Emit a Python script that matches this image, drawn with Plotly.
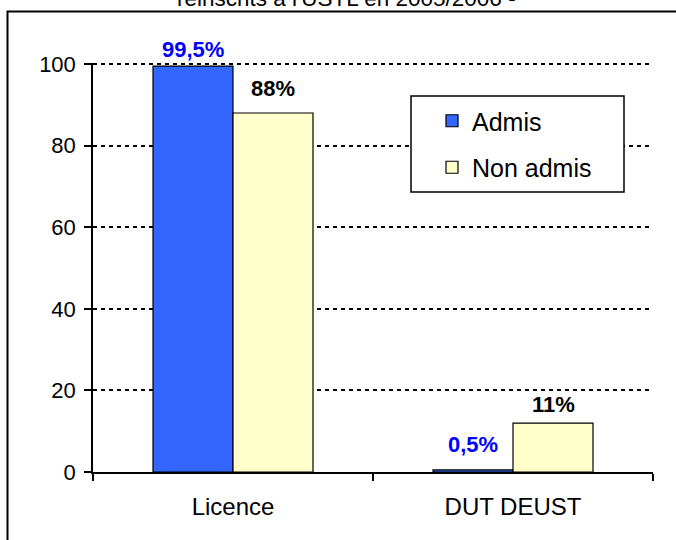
import plotly.graph_objects as go

categories = ["Licence", "DUT DEUST"]
admis = [99.5, 0.5]
non_admis = [88, 12]
admis_labels = ["99,5%", "0,5%"]
non_admis_labels = ["88%", "11%"]
series_names = ["Admis", "Non admis"]
y_ticks = [0, 20, 40, 60, 80, 100]
title_text = "réinscrits à l'USTL en 2005/2006 -"

FONT = "Liberation Sans, Arial, sans-serif"
W, H = 676, 540
L, T = 93, 63
PW, PH = 560, 409
R, B = W - L - PW, H - T - PH

def px_x(p):
    return (p - L) / PW

def px_y(p):
    return (T + PH - p) / PH

fig = go.Figure()
fig.add_trace(go.Bar(x=categories, y=admis, name=series_names[0],
                     marker=dict(color="#3366FF", line=dict(color="black", width=1.2)),
                     legendgroup="a"))
fig.add_trace(go.Bar(x=categories, y=non_admis, name=series_names[1],
                     marker=dict(color="#FFFFCC", line=dict(color="black", width=1.2)),
                     legendgroup="b"))

# data labels
label_shift_a = [2, 11]
label_shift_b = [10, 4]
annotations = []
for i, c in enumerate(categories):
    annotations.append(dict(x=c, y=admis[i], xref="x", yref="y", text="<b>%s</b>" % admis_labels[i],
                            showarrow=False, xshift=-40, yshift=label_shift_a[i], yanchor="bottom",
                            font=dict(family=FONT, size=22, color="#0000FF")))
    annotations.append(dict(x=c, y=non_admis[i], xref="x", yref="y", text="<b>%s</b>" % non_admis_labels[i],
                            showarrow=False, xshift=40, yshift=label_shift_b[i], yanchor="bottom",
                            font=dict(family=FONT, size=22, color="black")))
annotations.append(dict(x=px_x(346), y=px_y(12.5), xref="paper", yref="paper", text=title_text,
                        showarrow=False, yanchor="bottom", xanchor="center",
                        font=dict(family=FONT, size=22.5, color="black")))

shapes = [
    dict(type="rect", xref="paper", yref="paper", x0=px_x(7.5), x1=px_x(700), y0=px_y(560), y1=px_y(11.5),
         line=dict(color="black", width=2), fillcolor="rgba(0,0,0,0)", layer="above"),
    dict(type="rect", xref="paper", yref="paper", x0=px_x(411), x1=px_x(624), y0=px_y(192), y1=px_y(96),
         line=dict(color="black", width=1.5), fillcolor="white", layer="above"),
]

fig.update_layout(
    width=W, height=H,
    margin=dict(l=L, r=R, t=T, b=B),
    paper_bgcolor="white", plot_bgcolor="white",
    barmode="group", bargap=0.4286, bargroupgap=0,
    font=dict(family=FONT, size=21, color="black"),
    showlegend=True,
    legend=dict(x=px_x(432), y=px_y(98), xanchor="left", yanchor="top",
                bgcolor="rgba(0,0,0,0)", borderwidth=0,
                font=dict(family=FONT, size=25, color="black"),
                tracegroupgap=11, traceorder="grouped"),
    annotations=annotations,
    shapes=shapes,
)
fig.update_xaxes(type="category", tickson="boundaries", ticks="outside", ticklen=7,
                 tickcolor="black", tickwidth=1.5, showline=True, linecolor="black", linewidth=1.5,
                 showgrid=False, ticklabelstandoff=12, tickfont=dict(family=FONT, size=24, color="black"))
fig.update_yaxes(range=[0, 100.25], tickvals=y_ticks, ticks="outside", ticklen=7,
                 tickcolor="black", tickwidth=1.5, showline=True, linecolor="black", linewidth=1.5,
                 showgrid=True, gridcolor="black", gridwidth=2, griddash="4px,4px", zeroline=False,
                 ticklabelstandoff=4, tickfont=dict(family=FONT, size=22, color="black"))

fig.write_html("out.html", config={"displayModeBar": False},
               post_script="document.body.style.margin='0px';")
